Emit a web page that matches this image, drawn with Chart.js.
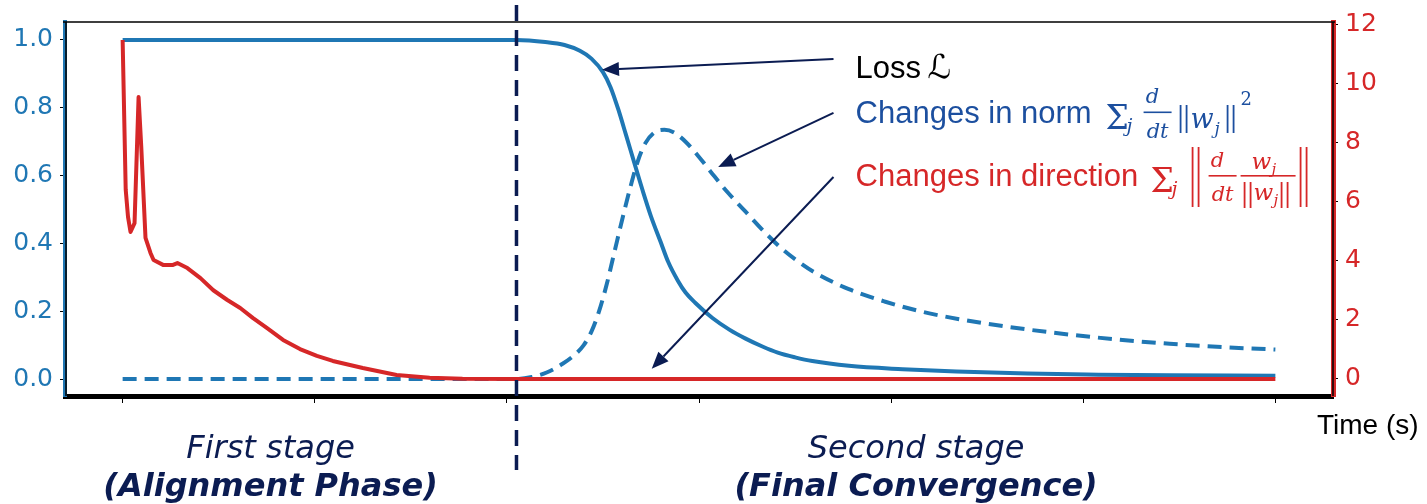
<!DOCTYPE html>
<html>
<head>
<meta charset="utf-8">
<title>Training stages</title>
<script src="https://cdn.jsdelivr.net/npm/chart.js@4.4.1/dist/chart.umd.min.js"></script>
<style>
  html, body { margin: 0; padding: 0; background: #fff; }
  #wrap { width: 1427px; height: 504px; }
</style>
</head>
<body>
<div id="wrap"><canvas id="stages" width="1427" height="504"></canvas></div>
<script>
// loss curve (left axis)
const timeLoss = [0, 150, 205, 220, 230, 238, 244, 250, 254, 258, 262, 267, 271, 275, 280, 284, 289, 293, 298, 307, 316, 324, 333, 341, 350, 359, 378, 406, 434, 471, 508, 545, 600];
const lossValues = [1.0, 1.0, 1.0, 0.994, 0.985, 0.968, 0.945, 0.905, 0.86, 0.795, 0.72, 0.625, 0.55, 0.48, 0.405, 0.345, 0.29, 0.255, 0.225, 0.18, 0.145, 0.12, 0.096, 0.078, 0.064, 0.053, 0.039, 0.029, 0.022, 0.016, 0.013, 0.011, 0.010];

// changes in norm (left axis, dashed)
const timeNorm = [0, 150, 205, 213, 221, 229, 235, 240, 244, 248, 252, 256, 260, 264, 268, 272, 277, 282, 287, 293, 300, 307, 315, 324, 333, 343, 352, 360, 378, 397, 415, 438, 462, 490, 517, 545, 573, 600];
const normValues = [0, 0, 0, 0.006, 0.02, 0.045, 0.07, 0.1, 0.14, 0.2, 0.28, 0.375, 0.47, 0.56, 0.64, 0.695, 0.728, 0.735, 0.727, 0.70, 0.655, 0.605, 0.55, 0.495, 0.44, 0.385, 0.345, 0.315, 0.265, 0.228, 0.2, 0.174, 0.153, 0.133, 0.117, 0.104, 0.094, 0.087];

// changes in direction (right axis)
const timeDir = [0, 1.6, 2.8, 4.1, 6.2, 8.3, 9.7, 11.9, 14.5, 16.1, 21.3, 25.9, 28.5, 33.7, 40.5, 47.2, 54.5, 61.2, 67.9, 75.2, 83.5, 92.3, 101.1, 109.4, 125, 142.6, 159.8, 176.9, 205, 600];
const dirValues = [11.46, 6.4, 5.48, 4.97, 5.27, 9.53, 7.84, 4.77, 4.26, 4.02, 3.85, 3.85, 3.92, 3.75, 3.41, 3.0, 2.67, 2.40, 2.06, 1.72, 1.32, 1.01, 0.78, 0.61, 0.37, 0.135, 0.044, 0.01, 0, 0];

const timeTicks = [0, 100, 200, 300, 400, 500, 600];
const leftTicks = [0, 0.2, 0.4, 0.6, 0.8, 1.0];
const rightTicks = [0, 2, 4, 6, 8, 10, 12];

const stageSplit = 205;
const stageLabels = [
  { t: 77, top: 'First stage', bottom: '(Alignment Phase)' },
  { t: 413, top: 'Second stage', bottom: '(Final Convergence)' }
];

// arrow tails / tips in (time, left-axis) units
const arrows = [
  { from: [370, 0.944], to: [249.5, 0.912] },
  { from: [370, 0.785], to: [310, 0.625] },
  { from: [370, 0.596], to: [275.4, 0.03] }
];

const BLUE = '#1f77b4';
const RED = '#d62728';
const NAVY = '#0b1c52';

const toXY = (ts, vs) => ts.map((t, i) => ({ x: t, y: vs[i] }));

function drawArrow(ctx, x1, y1, x2, y2) {
  const ang = Math.atan2(y2 - y1, x2 - x1);
  const len = 17, half = 7;
  const bx = x2 - len * Math.cos(ang), by = y2 - len * Math.sin(ang);
  ctx.beginPath();
  ctx.moveTo(x1, y1);
  ctx.lineTo(bx, by);
  ctx.stroke();
  ctx.beginPath();
  ctx.moveTo(x2, y2);
  ctx.lineTo(bx + half * Math.sin(ang), by - half * Math.cos(ang));
  ctx.lineTo(bx - half * Math.sin(ang), by + half * Math.cos(ang));
  ctx.closePath();
  ctx.fill();
}

function bars(ctx, x, y1, y2) {
  ctx.beginPath();
  ctx.moveTo(x, y1); ctx.lineTo(x, y2);
  ctx.moveTo(x + 6, y1); ctx.lineTo(x + 6, y2);
  ctx.stroke();
}

const it = s => `italic ${s}px "DejaVu Serif", "Liberation Serif", serif`;
const rm = s => `${s}px "DejaVu Serif", "Liberation Serif", serif`;

// sum_j d/dt ||w_j||^2
function normFormula(ctx, x0, base) {
  ctx.lineWidth = 1.8;
  ctx.textAlign = 'left';
  ctx.font = rm(33); ctx.fillText('Σ', x0, base + 6);
  ctx.font = it(19); ctx.fillText('j', x0 + 21, base + 9);
  ctx.textAlign = 'center';
  ctx.font = it(21); ctx.fillText('d', x0 + 47, base - 20);
  ctx.fillText('dt', x0 + 52, base + 15);
  ctx.fillRect(x0 + 38, base - 11.5, 28, 1.6);
  ctx.textAlign = 'left';
  bars(ctx, x0 + 75, base - 18, base + 10);
  ctx.font = it(27); ctx.fillText('w', x0 + 85, base + 5);
  ctx.font = it(17); ctx.fillText('j', x0 + 109, base + 11);
  bars(ctx, x0 + 122, base - 18, base + 10);
  ctx.font = rm(18); ctx.fillText('2', x0 + 135, base - 18);
}

// sum_j || d/dt w_j/||w_j|| ||
function dirFormula(ctx, x0, base) {
  ctx.lineWidth = 1.8;
  ctx.textAlign = 'left';
  ctx.font = rm(33); ctx.fillText('Σ', x0, base + 6);
  ctx.font = it(19); ctx.fillText('j', x0 + 21, base + 9);
  bars(ctx, x0 + 42, base - 39, base + 21);
  ctx.textAlign = 'center';
  ctx.font = it(21); ctx.fillText('d', x0 + 67, base - 19);
  ctx.fillText('dt', x0 + 72, base + 15);
  ctx.fillRect(x0 + 58, base - 11, 28, 1.6);
  ctx.fillRect(x0 + 90, base - 11, 55, 1.6);
  ctx.textAlign = 'left';
  ctx.font = it(23); ctx.fillText('w', x0 + 101, base - 17);
  ctx.font = it(15); ctx.fillText('j', x0 + 121, base - 12);
  bars(ctx, x0 + 94, base - 4, base + 22);
  ctx.font = it(23); ctx.fillText('w', x0 + 103, base + 14);
  ctx.font = it(15); ctx.fillText('j', x0 + 123, base + 19);
  bars(ctx, x0 + 131, base - 4, base + 22);
  bars(ctx, x0 + 150, base - 39, base + 21);
}

const stageNotes = {
  id: 'stageNotes',
  afterDatasetsDraw(chart) {
    const { ctx, chartArea, scales } = chart;
    const x = scales.x.getPixelForValue(stageSplit);
    ctx.save();
    ctx.strokeStyle = NAVY;
    ctx.lineWidth = 3.5;
    ctx.setLineDash([16, 9]);
    ctx.beginPath();
    ctx.moveTo(x, chartArea.top - 17);
    ctx.lineTo(x, 470);
    ctx.stroke();
    ctx.restore();
  },
  afterDraw(chart) {
    const { ctx, chartArea: a, scales } = chart;
    const sx = scales.x, sy = scales.yL;
    ctx.save();

    // frame: thin top edge, dark cores in the coloured spines
    ctx.strokeStyle = '#000';
    ctx.lineWidth = 1.5;
    ctx.beginPath();
    ctx.moveTo(a.left - 2, a.top); ctx.lineTo(a.right + 2, a.top);
    ctx.moveTo(a.left + 1, a.top); ctx.lineTo(a.left + 1, a.bottom);
    ctx.moveTo(a.right, a.top); ctx.lineTo(a.right, a.bottom);
    ctx.stroke();

    // annotation arrows
    ctx.strokeStyle = NAVY;
    ctx.fillStyle = NAVY;
    ctx.lineWidth = 2;
    arrows.forEach(ar => {
      drawArrow(ctx,
        sx.getPixelForValue(ar.from[0]), sy.getPixelForValue(ar.from[1]),
        sx.getPixelForValue(ar.to[0]), sy.getPixelForValue(ar.to[1]));
    });

    // series labels
    const tx = sx.getPixelForValue(381.5);
    const label = '31px "Liberation Sans", Arial, sans-serif';
    ctx.textAlign = 'left';
    ctx.textBaseline = 'alphabetic';
    ctx.fillStyle = '#000';
    ctx.font = label;
    ctx.fillText('Loss', tx, 78);
    ctx.font = 'italic 33px "DejaVu Serif", "DejaVu Sans", serif';
    ctx.fillText('ℒ', tx + 72, 78);

    ctx.fillStyle = '#1c4f9f';
    ctx.strokeStyle = '#1c4f9f';
    ctx.font = label;
    ctx.fillText('Changes in norm', tx, 123);
    normFormula(ctx, tx + 250, 123);

    ctx.fillStyle = RED;
    ctx.strokeStyle = RED;
    ctx.font = label;
    ctx.textAlign = 'left';
    ctx.fillText('Changes in direction', tx, 186);
    dirFormula(ctx, tx + 295, 186);

    // axis title
    ctx.fillStyle = '#000';
    ctx.textAlign = 'left';
    ctx.font = '28px "Liberation Sans", Arial, sans-serif';
    ctx.fillText('Time (s)', 1317, 434);

    // stage captions
    ctx.fillStyle = NAVY;
    ctx.textAlign = 'center';
    stageLabels.forEach(s => {
      const cx = sx.getPixelForValue(s.t);
      ctx.font = 'italic 32px "DejaVu Sans", sans-serif';
      ctx.fillText(s.top, cx, 458);
      ctx.font = 'italic bold 32px "DejaVu Sans", sans-serif';
      ctx.fillText(s.bottom, cx, 496);
    });
    ctx.restore();
  }
};

new Chart(document.getElementById('stages'), {
  type: 'line',
  data: {
    datasets: [
      {
        label: 'Changes in direction',
        data: toXY(timeDir, dirValues),
        yAxisID: 'yR',
        borderColor: RED,
        borderWidth: 4,
        tension: 0,
        order: 0
      },
      {
        label: 'Loss',
        data: toXY(timeLoss, lossValues),
        yAxisID: 'yL',
        borderColor: BLUE,
        borderWidth: 4,
        cubicInterpolationMode: 'monotone',
        order: 1
      },
      {
        label: 'Changes in norm',
        data: toXY(timeNorm, normValues),
        yAxisID: 'yL',
        borderColor: BLUE,
        borderWidth: 4,
        borderDash: [14, 8],
        cubicInterpolationMode: 'monotone',
        order: 2
      }
    ]
  },
  options: {
    responsive: false,
    animation: false,
    layout: { padding: { top: 22, left: 0, right: 0, bottom: 0 } },
    elements: { point: { radius: 0 }, line: { borderJoinStyle: 'round', fill: false } },
    plugins: { legend: { display: false }, tooltip: { enabled: false } },
    scales: {
      x: {
        type: 'linear',
        min: -30,
        max: 630,
        afterBuildTicks: s => { s.ticks = timeTicks.map(v => ({ value: v })); },
        afterFit: s => { s.height = 108; },
        ticks: { display: false },
        grid: { drawOnChartArea: false, drawTicks: true, tickLength: 7, color: '#000', lineWidth: 1 },
        border: { display: true, color: '#000', width: 5 }
      },
      yL: {
        position: 'left',
        min: -0.05,
        max: 1.053,
        afterBuildTicks: s => { s.ticks = leftTicks.map(v => ({ value: v })); },
        afterFit: s => { s.width = 65; },
        ticks: {
          color: BLUE,
          padding: 7,
          font: { family: 'DejaVu Sans', size: 25 },
          callback: v => v.toFixed(1)
        },
        grid: { drawOnChartArea: false, drawTicks: true, tickLength: 5, color: '#000', lineWidth: 1 },
        border: { display: true, color: BLUE, width: 4 }
      },
      yR: {
        position: 'right',
        min: -0.575,
        max: 12.068,
        afterBuildTicks: s => { s.ticks = rightTicks.map(v => ({ value: v })); },
        afterFit: s => { s.width = 94; },
        ticks: {
          color: RED,
          padding: 7,
          font: { family: 'DejaVu Sans', size: 25 },
          callback: v => String(v)
        },
        grid: { drawOnChartArea: false, drawTicks: true, tickLength: 5, color: '#000', lineWidth: 1 },
        border: { display: true, color: RED, width: 5 }
      }
    }
  },
  plugins: [stageNotes]
});
</script>
</body>
</html>
